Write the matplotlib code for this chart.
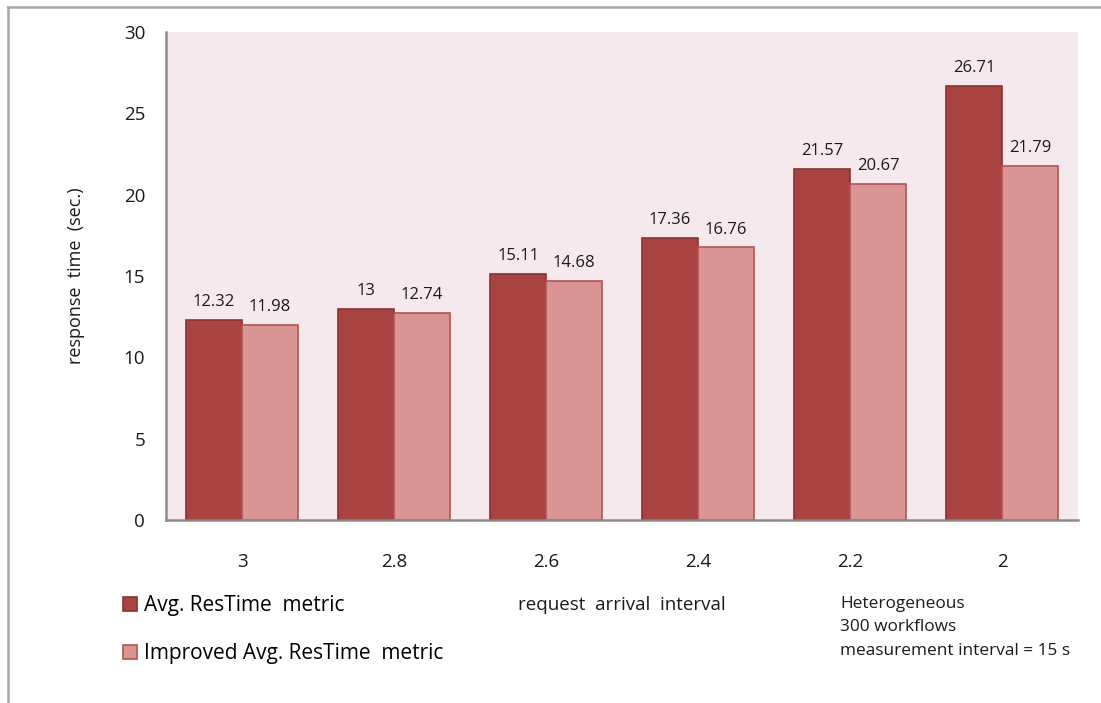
#!/usr/bin/env python3

"""
Response time per request arrival interval, original vs improved metric.
"""

import matplotlib
matplotlib.use("Agg")
import matplotlib.pyplot as plt
from matplotlib.lines import Line2D
import numpy as np

intervals = ["3", "2.8", "2.6", "2.4", "2.2", "2"]
avg_restime = [12.32, 13, 15.11, 17.36, 21.57, 26.71]
improved_restime = [11.98, 12.74, 14.68, 16.76, 20.67, 21.79]

series_names = ["Avg. ResTime  metric", "Improved Avg. ResTime  metric"]
note_lines = ["Heterogeneous", "300 workflows", "measurement interval = 15 s"]

DARK = "#a94442"
DARK_EDGE = "#8a3331"
LIGHT = "#d99594"
LIGHT_EDGE = "#b05553"
PLOT_BG = "#f5e9ed"
FRAME = "#a6a6a6"
TEXT = "#1a1a1a"

plt.rcParams["font.family"] = ["Open Sans", "DejaVu Sans"]

W, H = 1101, 703
fig = plt.figure(figsize=(W / 100, H / 100), dpi=100)
fig.patch.set_facecolor("white")

# axes box in pixel terms
left, right, top, bottom = 166, 1078, 32, 520
ax = fig.add_axes([left / W, 1 - bottom / H, (right - left) / W, (bottom - top) / H])
ax.set_facecolor(PLOT_BG)

x = np.arange(len(intervals))
width = 0.368

bars_a = ax.bar(x - width / 2, avg_restime, width, color=DARK,
                edgecolor=DARK_EDGE, linewidth=1.2, label=series_names[0])
bars_b = ax.bar(x + width / 2, improved_restime, width, color=LIGHT,
                edgecolor=LIGHT_EDGE, linewidth=1.2, label=series_names[1])

for bars, values in ((bars_a, avg_restime), (bars_b, improved_restime)):
    for bar, v in zip(bars, values):
        ax.annotate(
            f"{v:g}",
            (bar.get_x() + bar.get_width() / 2, v),
            xytext=(0, 7),
            textcoords="offset points",
            ha="center",
            va="bottom",
            fontsize=12,
            color=TEXT,
        )

ax.set_xlim(-0.5, len(intervals) - 0.5)
ax.set_ylim(0, 30)
ax.set_yticks(range(0, 31, 5))
ax.set_xticks(x)
ax.set_xticklabels(intervals)

ax.tick_params(axis="y", length=0, pad=15, labelsize=13.5, labelcolor=TEXT)
ax.tick_params(axis="x", length=0, pad=24, labelsize=13.5, labelcolor=TEXT)

for side in ("top", "right"):
    ax.spines[side].set_visible(False)
for side in ("left", "bottom"):
    ax.spines[side].set_color("#8c8c8c")
    ax.spines[side].set_linewidth(1.8)

ax.set_ylabel("response  time  (sec.)", fontsize=13, color=TEXT)
ax.yaxis.set_label_coords(-0.089, 0.5)

ax.set_xlabel("request  arrival  interval", fontsize=13.5, color=TEXT)
ax.xaxis.label.set_va("center")
ax.xaxis.set_label_coords(0.5, -(605 - bottom) / (bottom - top))

fig.legend(
    handles=[bars_a, bars_b],
    labels=series_names,
    loc="upper left",
    bbox_to_anchor=(123 / W, 1 - 595 / H),
    frameon=False,
    fontsize=15,
    handlelength=0.68,
    handleheight=0.68,
    handletextpad=0.35,
    labelspacing=1.3,
    borderpad=0,
    borderaxespad=0,
)

fig.text(840 / W, 1 - 596 / H, "\n".join(note_lines), ha="left", va="top",
         fontsize=12.4, linespacing=1.62, color=TEXT)

# thin outer frame on the top and left edges
fig.add_artist(Line2D([8 / W, 1], [1 - 7 / H, 1 - 7 / H],
                      transform=fig.transFigure, color=FRAME, lw=1.8))
fig.add_artist(Line2D([8 / W, 8 / W], [0, 1 - 7 / H],
                      transform=fig.transFigure, color=FRAME, lw=1.8))

fig.savefig("out.png", dpi=100)
